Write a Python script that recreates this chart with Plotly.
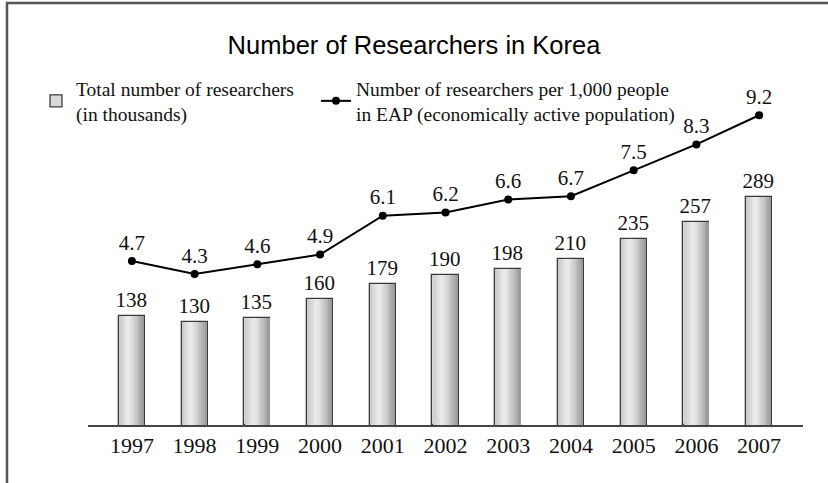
import plotly.graph_objects as go

years = ["1997", "1998", "1999", "2000", "2001", "2002", "2003", "2004", "2005", "2006", "2007"]
researchers_thousands = [138, 130, 135, 160, 179, 190, 198, 210, 235, 257, 289]
per_1000_eap = [4.7, 4.3, 4.6, 4.9, 6.1, 6.2, 6.6, 6.7, 7.5, 8.3, 9.2]

bar_name = "Total number of researchers<br>(in thousands)"
line_name = "Number of researchers per 1,000 people<br>in EAP (economically active population)"

SERIF = "Liberation Serif, Times New Roman, serif"
BAR_W = 0.415

fig = go.Figure()

# base bar with outline (legend entry)
fig.add_trace(go.Bar(
    x=years, y=researchers_thousands, width=BAR_W, name=bar_name, legend="legend",
    marker=dict(color="#d9d9d9", line=dict(color="#3a3a3a", width=1.3)),
    text=[str(v) for v in researchers_thousands], textposition="outside",
    constraintext="none",
    textfont=dict(family=SERIF, size=21, color="#111"), cliponaxis=False,
))

# gradient slices
N = 14
inner = BAR_W - 0.022
sw = inner / N
def shade(t):
    peak = 0.35
    if t <= peak:
        v = 200 + (236 - 200) * (t / peak)
    else:
        v = 236 - (236 - 150) * ((t - peak) / (1 - peak)) ** 1.3
    v = int(round(v))
    return f"rgb({v},{v},{v})"
for i in range(N):
    t = (i + 0.5) / N
    fig.add_trace(go.Bar(
        x=years, y=researchers_thousands, width=sw, offset=-inner / 2 + i * sw,
        marker=dict(color=shade(t), line=dict(width=0)),
        showlegend=False, hoverinfo="skip",
    ))

fig.add_trace(go.Scatter(
    x=years, y=per_1000_eap, yaxis="y2", name=line_name, legend="legend2",
    mode="lines+markers+text",
    line=dict(color="#000", width=2),
    marker=dict(color="#000", size=8),
    text=[f"{v:.1f}" for v in per_1000_eap], textposition="top center",
    textfont=dict(family=SERIF, size=21, color="#111"), cliponaxis=False,
))

legend_common = dict(xanchor="left", yanchor="top",
                     font=dict(family=SERIF, size=19.5, color="#111"),
                     bgcolor="rgba(0,0,0,0)")

fig.update_layout(
    width=828, height=483,
    margin=dict(l=88, r=25, t=100, b=58, autoexpand=False),
    paper_bgcolor="white", plot_bgcolor="white",
    barmode="overlay", bargap=0,
    title=dict(text="Number of Researchers in Korea", x=0.5, xanchor="center",
               y=1 - 45 / 483, yanchor="middle",
               font=dict(family="Liberation Sans, Arial, sans-serif", size=25.5, color="#000")),
    xaxis=dict(type="category", range=[-0.7, 10.7], showline=True, linecolor="#444", linewidth=1.5,
               ticks="", showgrid=False, tickfont=dict(family=SERIF, size=22, color="#111")),
    yaxis=dict(range=[0, 411.4], visible=False, showgrid=False),
    yaxis2=dict(range=[-0.358, 9.67], overlaying="y", visible=False, showgrid=False),
    legend=dict(x=(36 - 88) / 715, y=(425 - 69) / 325, **legend_common),
    legend2=dict(x=(316 - 88) / 715, y=(425 - 69) / 325, **legend_common),
    showlegend=True,
    shapes=[dict(type="rect", xref="paper", yref="paper",
                 x0=(7 - 88) / 715, x1=1.2, y0=-0.4, y1=(425 - 3) / 325,
                 line=dict(color="#555", width=2.5), fillcolor="rgba(0,0,0,0)", layer="below")],
)

fig.write_html("out.html", config={"displayModeBar": False},
               post_script="document.body.style.margin='0px';")
